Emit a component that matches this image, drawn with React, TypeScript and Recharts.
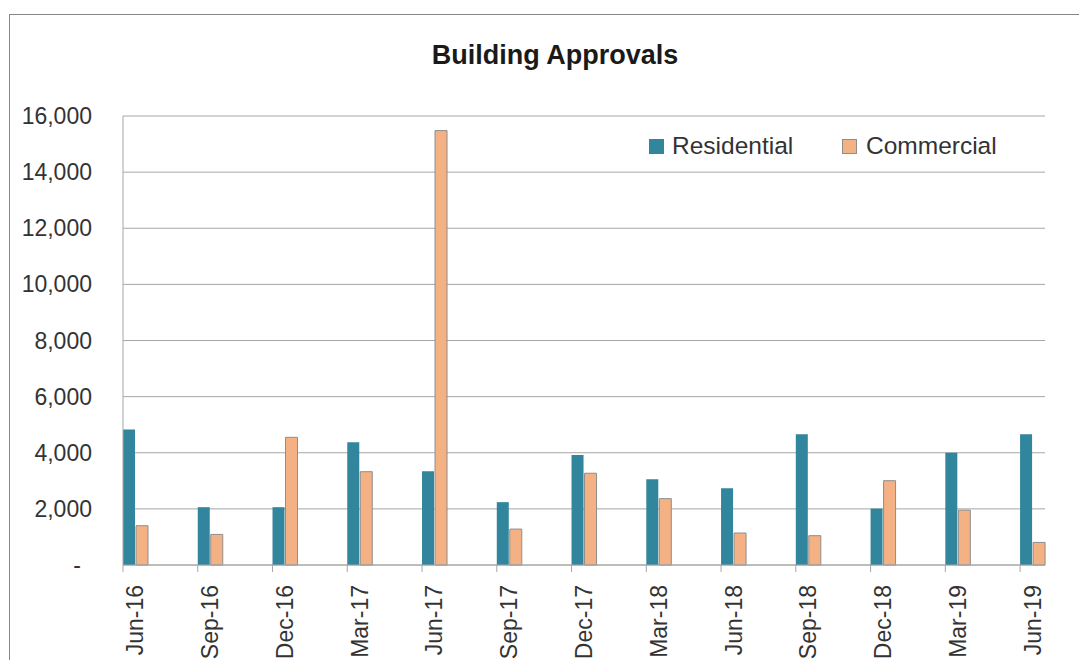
import React from "react";
import { BarChart, Bar, XAxis, YAxis, CartesianGrid } from "recharts";

const quarterLabels = [
  "Jun-16", "Sep-16", "Dec-16", "Mar-17", "Jun-17", "Sep-17", "Dec-17",
  "Mar-18", "Jun-18", "Sep-18", "Dec-18", "Mar-19", "Jun-19",
];
const residential = [4830, 2060, 2060, 4370, 3340, 2240, 3920, 3055, 2735, 4655, 2010, 4000, 4655];
const commercial = [1400, 1090, 4550, 3325, 15480, 1280, 3270, 2365, 1140, 1045, 3005, 1955, 805];
const yTicks = [0, 2000, 4000, 6000, 8000, 10000, 12000, 14000, 16000];
const seriesNames = ["Residential", "Commercial"];

// Date axis in monthly base units: Jun-16 .. Jun-19 = 37 months
const monthCount = (quarterLabels.length - 1) * 3 + 1;
const data = Array.from({ length: monthCount }, (_, i) => ({
  m: i,
  residential: i % 3 === 0 ? residential[i / 3] : null,
  commercial: i % 3 === 0 ? commercial[i / 3] : null,
}));

const FONT = "'Liberation Sans', Arial, sans-serif";
const TEXT = "#333333";
const GRID = "#A6A6A6";
const TEAL = "#31859C";
const PEACH = "#F4B183";

const CHART_W = 1079;
const CHART_H = 652;
const MARGIN = { top: 108, right: 42, left: 15, bottom: 0 };
const Y_W = 100;
const X_H = 95;
const plotW = CHART_W - MARGIN.left - Y_W - MARGIN.right;
const band = plotW / monthCount;

const XTick = (props: any) => {
  const { x, y, payload } = props;
  const idx = payload && typeof payload.index === "number" ? payload.index : props.index;
  if (idx % 3 !== 0) return null;
  const label = quarterLabels[idx / 3];
  const tx = x - band / 2;
  return (
    <g>
      <line x1={tx} y1={y} x2={tx} y2={y + 7} stroke={GRID} strokeWidth={1} />
      <text
        x={x}
        y={y + 20}
        transform={`rotate(-90, ${x}, ${y + 20})`}
        textAnchor="end"
        dominantBaseline="central"
        fontFamily={FONT}
        fontSize={23}
        fill={TEXT}
      >
        {label}
      </text>
    </g>
  );
};

const YTick = (props: any) => {
  const { x, y, payload } = props;
  const v = payload.value;
  const label = v === 0 ? "-" : v.toLocaleString("en-US");
  return (
    <text
      x={v === 0 ? x - 11 : x}
      y={y}
      textAnchor="end"
      dominantBaseline="central"
      fontFamily={FONT}
      fontSize={23}
      fill={TEXT}
    >
      {label}
    </text>
  );
};

const LegendBox = () => (
  <div
    style={{
      position: "absolute",
      left: 641,
      top: 123,
      width: 420,
      height: 30,
      fontFamily: FONT,
      fontSize: 24.5,
      color: TEXT,
    }}
  >
    <div style={{ position: "absolute", left: 0, top: 8, width: 15, height: 15, background: TEAL }} />
    <div style={{ position: "absolute", left: 23, top: 0, lineHeight: "30px", whiteSpace: "nowrap" }}>{seriesNames[0]}</div>
    <div
      style={{
        position: "absolute",
        left: 193,
        top: 8,
        width: 15,
        height: 15,
        background: PEACH,
        border: "1px solid #8E8E8E",
        boxSizing: "border-box",
      }}
    />
    <div style={{ position: "absolute", left: 217, top: 0, lineHeight: "30px", whiteSpace: "nowrap" }}>{seriesNames[1]}</div>
  </div>
);

export default function App() {
  return (
    <div style={{ position: "relative", width: CHART_W, height: CHART_H, overflow: "hidden", background: "#fff" }}>
      <div
        style={{
          position: "absolute",
          left: 1,
          top: 6,
          width: 1200,
          height: 800,
          border: "1px solid #878787",
        }}
      />
      <div
        style={{
          position: "absolute",
          left: 0,
          top: 32,
          width: 1094,
          textAlign: "center",
          fontFamily: FONT,
          fontWeight: "bold",
          fontSize: 27,
          lineHeight: "30px",
          color: "#1a1a1a",
        }}
      >
        Building Approvals
      </div>
      <div style={{ position: "absolute", left: 0, top: 0 }}>
        <BarChart
          width={CHART_W}
          height={CHART_H}
          data={data}
          margin={MARGIN}
          barCategoryGap={0}
          barGap={1}
        >
          <CartesianGrid vertical={false} stroke={GRID} strokeWidth={1} />
          <XAxis
            dataKey="m"
            type="category"
            interval={0}
            height={X_H}
            tickSize={0}
            tickMargin={0}
            tickLine={false}
            axisLine={{ stroke: GRID, strokeWidth: 1 }}
            tick={<XTick />}
          />
          <YAxis
            domain={[0, 16000]}
            ticks={yTicks}
            width={Y_W}
            tickSize={0}
            tickMargin={31}
            tickLine={false}
            axisLine={{ stroke: GRID, strokeWidth: 1 }}
            tick={<YTick />}
            interval={0}
          />
          <Bar dataKey="residential" name={seriesNames[0]} fill={TEAL} isAnimationActive={false} />
          <Bar
            dataKey="commercial"
            name={seriesNames[1]}
            fill={PEACH}
            stroke="#8E8E8E"
            strokeWidth={1}
            isAnimationActive={false}
          />
        </BarChart>
      </div>
      <LegendBox />
    </div>
  );
}
